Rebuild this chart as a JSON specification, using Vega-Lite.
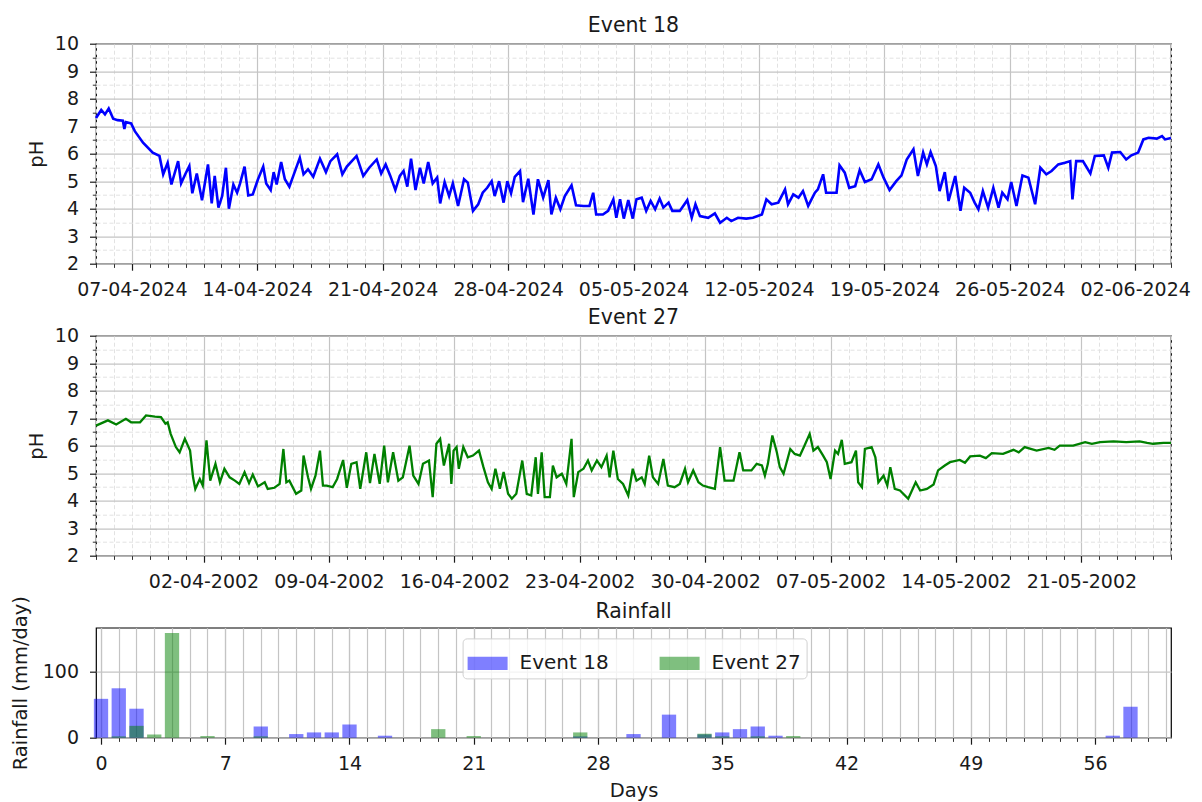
{
  "$schema": "https://vega.github.io/schema/vega-lite/v6.json",
  "background": "white",
  "padding": {"left": 10, "top": 14.7, "right": 5, "bottom": 5},
  "bounds": "flush",
  "spacing": 72,
  "resolve": {"legend": {"color": "independent"}, "scale": {"color": "independent"}},
  "config": {
    "font": "DejaVu Sans",
    "view": {"stroke": "black", "strokeWidth": 1.2},
    "axis": {
      "labelFont": "DejaVu Sans", "labelFontSize": 19, "labelColor": "#1a1a1a",
      "titleFont": "DejaVu Sans", "titleFontSize": 19.5, "titleFontWeight": "normal", "titleColor": "#1a1a1a",
      "tickColor": "#1a1a1a", "domain": false, "labelFlush": false, "labelOverlap": false,
      "gridColor": "#c4c4c4", "gridWidth": 1.2
    },
    "axisX": {"labelPadding": 10},
    "axisY": {"labelPadding": 11},
    "title": {"font": "DejaVu Sans", "fontSize": 20.5, "fontWeight": "normal", "color": "#1a1a1a"},
    "legend": {"labelFont": "DejaVu Sans"}
  },
  "datasets": {
    "e18": [
      {"t":"2024-04-05T00:00","ph":7.3},{"t":"2024-04-05T07:00","ph":7.59},{"t":"2024-04-05T12:00","ph":7.43},{"t":"2024-04-05T17:00","ph":7.64},
      {"t":"2024-04-05T23:00","ph":7.27},{"t":"2024-04-06T05:00","ph":7.22},{"t":"2024-04-06T12:00","ph":7.2},{"t":"2024-04-06T14:00","ph":6.9},
      {"t":"2024-04-06T16:00","ph":7.15},{"t":"2024-04-06T23:00","ph":7.1},{"t":"2024-04-07T04:00","ph":6.82},{"t":"2024-04-07T15:00","ph":6.4},
      {"t":"2024-04-08T04:00","ph":6.04},{"t":"2024-04-08T13:00","ph":5.92},{"t":"2024-04-08T18:00","ph":5.25},{"t":"2024-04-09T00:00","ph":5.67},
      {"t":"2024-04-09T05:00","ph":4.88},{"t":"2024-04-09T14:00","ph":5.73},{"t":"2024-04-09T18:00","ph":4.92},{"t":"2024-04-10T00:00","ph":5.28},
      {"t":"2024-04-10T05:00","ph":5.55},{"t":"2024-04-10T09:00","ph":4.56},{"t":"2024-04-10T15:00","ph":5.28},{"t":"2024-04-10T22:00","ph":4.31},
      {"t":"2024-04-11T06:00","ph":5.61},{"t":"2024-04-11T11:00","ph":4.19},{"t":"2024-04-11T15:00","ph":5.19},{"t":"2024-04-11T20:00","ph":4.04},
      {"t":"2024-04-12T01:00","ph":4.46},{"t":"2024-04-12T06:00","ph":5.49},{"t":"2024-04-12T10:00","ph":4.0},{"t":"2024-04-12T16:00","ph":4.88},
      {"t":"2024-04-12T21:00","ph":4.58},{"t":"2024-04-13T01:00","ph":4.92},{"t":"2024-04-13T07:00","ph":5.53},{"t":"2024-04-13T12:00","ph":4.48},
      {"t":"2024-04-13T18:00","ph":4.52},{"t":"2024-04-14T01:00","ph":5.07},{"t":"2024-04-14T08:00","ph":5.53},{"t":"2024-04-14T12:00","ph":4.92},
      {"t":"2024-04-14T18:00","ph":4.68},{"t":"2024-04-14T22:00","ph":5.33},{"t":"2024-04-15T02:00","ph":4.88},{"t":"2024-04-15T08:00","ph":5.7},
      {"t":"2024-04-15T13:00","ph":5.07},{"t":"2024-04-15T19:00","ph":4.8},{"t":"2024-04-16T01:00","ph":5.25},{"t":"2024-04-16T09:00","ph":5.85},
      {"t":"2024-04-16T14:00","ph":5.25},{"t":"2024-04-16T20:00","ph":5.43},{"t":"2024-04-17T03:00","ph":5.16},{"t":"2024-04-17T12:00","ph":5.82},
      {"t":"2024-04-17T20:00","ph":5.33},{"t":"2024-04-18T02:00","ph":5.73},{"t":"2024-04-18T11:00","ph":5.98},{"t":"2024-04-18T18:00","ph":5.25},
      {"t":"2024-04-19T00:00","ph":5.53},{"t":"2024-04-19T13:00","ph":5.92},{"t":"2024-04-19T22:00","ph":5.19},{"t":"2024-04-20T06:00","ph":5.49},
      {"t":"2024-04-20T16:00","ph":5.79},{"t":"2024-04-20T22:00","ph":5.28},{"t":"2024-04-21T04:00","ph":5.61},{"t":"2024-04-21T10:00","ph":5.21},
      {"t":"2024-04-21T17:00","ph":4.68},{"t":"2024-04-21T23:00","ph":5.19},{"t":"2024-04-22T04:00","ph":5.37},{"t":"2024-04-22T09:00","ph":4.8},
      {"t":"2024-04-22T14:00","ph":5.82},{"t":"2024-04-22T20:00","ph":4.68},{"t":"2024-04-23T02:00","ph":5.49},{"t":"2024-04-23T07:00","ph":4.92},
      {"t":"2024-04-23T13:00","ph":5.7},{"t":"2024-04-23T19:00","ph":4.92},{"t":"2024-04-24T01:00","ph":5.13},{"t":"2024-04-24T05:00","ph":4.19},
      {"t":"2024-04-24T11:00","ph":4.97},{"t":"2024-04-24T17:00","ph":4.46},{"t":"2024-04-24T22:00","ph":4.92},{"t":"2024-04-25T02:00","ph":4.46},
      {"t":"2024-04-25T05:00","ph":4.1},{"t":"2024-04-25T13:00","ph":5.07},{"t":"2024-04-25T18:00","ph":4.95},{"t":"2024-04-26T01:00","ph":3.92},
      {"t":"2024-04-26T08:00","ph":4.16},{"t":"2024-04-26T14:00","ph":4.58},{"t":"2024-04-26T20:00","ph":4.76},{"t":"2024-04-27T02:00","ph":5.0},
      {"t":"2024-04-27T06:00","ph":4.46},{"t":"2024-04-27T12:00","ph":5.0},{"t":"2024-04-27T18:00","ph":4.22},{"t":"2024-04-27T23:00","ph":5.0},
      {"t":"2024-04-28T04:00","ph":4.56},{"t":"2024-04-28T09:00","ph":5.16},{"t":"2024-04-28T16:00","ph":5.37},{"t":"2024-04-28T20:00","ph":4.24},
      {"t":"2024-04-29T03:00","ph":5.09},{"t":"2024-04-29T10:00","ph":3.79},{"t":"2024-04-29T16:00","ph":5.07},{"t":"2024-04-29T23:00","ph":4.4},
      {"t":"2024-04-30T06:00","ph":5.04},{"t":"2024-04-30T10:00","ph":3.79},{"t":"2024-04-30T16:00","ph":4.4},{"t":"2024-04-30T22:00","ph":3.98},
      {"t":"2024-05-01T04:00","ph":4.46},{"t":"2024-05-01T13:00","ph":4.85},{"t":"2024-05-01T19:00","ph":4.12},{"t":"2024-05-02T05:00","ph":4.1},
      {"t":"2024-05-02T13:00","ph":4.1},{"t":"2024-05-02T18:00","ph":4.58},{"t":"2024-05-02T22:00","ph":3.79},{"t":"2024-05-03T07:00","ph":3.79},
      {"t":"2024-05-03T14:00","ph":3.92},{"t":"2024-05-03T21:00","ph":4.34},{"t":"2024-05-04T01:00","ph":3.67},{"t":"2024-05-04T06:00","ph":4.34},
      {"t":"2024-05-04T11:00","ph":3.64},{"t":"2024-05-04T17:00","ph":4.31},{"t":"2024-05-04T23:00","ph":3.64},{"t":"2024-05-05T04:00","ph":4.34},
      {"t":"2024-05-05T11:00","ph":4.4},{"t":"2024-05-05T17:00","ph":3.92},{"t":"2024-05-05T23:00","ph":4.28},{"t":"2024-05-06T05:00","ph":3.98},
      {"t":"2024-05-06T11:00","ph":4.37},{"t":"2024-05-06T16:00","ph":4.04},{"t":"2024-05-06T23:00","ph":4.22},{"t":"2024-05-07T04:00","ph":3.92},
      {"t":"2024-05-07T14:00","ph":3.92},{"t":"2024-05-08T00:00","ph":4.31},{"t":"2024-05-08T06:00","ph":3.67},{"t":"2024-05-08T11:00","ph":4.16},
      {"t":"2024-05-08T17:00","ph":3.73},{"t":"2024-05-09T04:00","ph":3.67},{"t":"2024-05-09T13:00","ph":3.83},{"t":"2024-05-09T20:00","ph":3.49},
      {"t":"2024-05-10T05:00","ph":3.67},{"t":"2024-05-10T11:00","ph":3.55},{"t":"2024-05-10T20:00","ph":3.67},{"t":"2024-05-11T07:00","ph":3.64},
      {"t":"2024-05-11T16:00","ph":3.67},{"t":"2024-05-12T04:00","ph":3.79},{"t":"2024-05-12T10:00","ph":4.34},{"t":"2024-05-12T17:00","ph":4.16},
      {"t":"2024-05-13T02:00","ph":4.22},{"t":"2024-05-13T11:00","ph":4.7},{"t":"2024-05-13T15:00","ph":4.16},{"t":"2024-05-13T22:00","ph":4.52},
      {"t":"2024-05-14T05:00","ph":4.4},{"t":"2024-05-14T11:00","ph":4.64},{"t":"2024-05-14T18:00","ph":4.1},{"t":"2024-05-15T03:00","ph":4.58},
      {"t":"2024-05-15T07:00","ph":4.7},{"t":"2024-05-15T14:00","ph":5.25},{"t":"2024-05-15T18:00","ph":4.58},{"t":"2024-05-16T01:00","ph":4.58},
      {"t":"2024-05-16T08:00","ph":4.58},{"t":"2024-05-16T12:00","ph":5.58},{"t":"2024-05-16T19:00","ph":5.31},{"t":"2024-05-17T01:00","ph":4.76},
      {"t":"2024-05-17T09:00","ph":4.82},{"t":"2024-05-17T15:00","ph":5.4},{"t":"2024-05-17T22:00","ph":4.97},{"t":"2024-05-18T07:00","ph":5.07},
      {"t":"2024-05-18T16:00","ph":5.61},{"t":"2024-05-18T23:00","ph":5.13},{"t":"2024-05-19T07:00","ph":4.68},{"t":"2024-05-19T16:00","ph":5.0},
      {"t":"2024-05-19T23:00","ph":5.21},{"t":"2024-05-20T06:00","ph":5.79},{"t":"2024-05-20T15:00","ph":6.16},{"t":"2024-05-20T21:00","ph":5.19},
      {"t":"2024-05-21T04:00","ph":6.04},{"t":"2024-05-21T09:00","ph":5.61},{"t":"2024-05-21T14:00","ph":6.06},{"t":"2024-05-21T21:00","ph":5.55},
      {"t":"2024-05-22T02:00","ph":4.64},{"t":"2024-05-22T09:00","ph":5.33},{"t":"2024-05-22T14:00","ph":4.28},{"t":"2024-05-22T23:00","ph":5.19},
      {"t":"2024-05-23T06:00","ph":3.92},{"t":"2024-05-23T11:00","ph":4.76},{"t":"2024-05-23T19:00","ph":4.58},{"t":"2024-05-24T01:00","ph":4.22},
      {"t":"2024-05-24T06:00","ph":3.98},{"t":"2024-05-24T12:00","ph":4.64},{"t":"2024-05-24T19:00","ph":4.04},{"t":"2024-05-25T02:00","ph":4.76},
      {"t":"2024-05-25T09:00","ph":4.04},{"t":"2024-05-25T14:00","ph":4.58},{"t":"2024-05-25T21:00","ph":4.34},{"t":"2024-05-26T02:00","ph":4.97},
      {"t":"2024-05-26T09:00","ph":4.1},{"t":"2024-05-26T17:00","ph":5.21},{"t":"2024-05-27T01:00","ph":5.13},{"t":"2024-05-27T10:00","ph":4.16},
      {"t":"2024-05-27T17:00","ph":5.49},{"t":"2024-05-28T01:00","ph":5.25},{"t":"2024-05-28T08:00","ph":5.37},{"t":"2024-05-28T17:00","ph":5.61},
      {"t":"2024-05-29T02:00","ph":5.67},{"t":"2024-05-29T09:00","ph":5.73},{"t":"2024-05-29T12:00","ph":4.34},{"t":"2024-05-29T17:00","ph":5.73},
      {"t":"2024-05-30T02:00","ph":5.73},{"t":"2024-05-30T12:00","ph":5.28},{"t":"2024-05-30T18:00","ph":5.92},{"t":"2024-05-31T06:00","ph":5.94},
      {"t":"2024-05-31T12:00","ph":5.49},{"t":"2024-05-31T17:00","ph":6.04},{"t":"2024-06-01T04:00","ph":6.06},{"t":"2024-06-01T12:00","ph":5.79},
      {"t":"2024-06-01T19:00","ph":5.94},{"t":"2024-06-02T04:00","ph":6.04},{"t":"2024-06-02T11:00","ph":6.52},{"t":"2024-06-02T18:00","ph":6.58},
      {"t":"2024-06-03T05:00","ph":6.55},{"t":"2024-06-03T12:00","ph":6.64},{"t":"2024-06-03T16:00","ph":6.52},{"t":"2024-06-04T00:00","ph":6.57}
    ],
    "e27": [
      {"t":"2002-03-27T00:00","ph":6.73},{"t":"2002-03-27T16:00","ph":6.92},{"t":"2002-03-28T03:00","ph":6.77},{"t":"2002-03-28T16:00","ph":6.98},
      {"t":"2002-03-28T23:00","ph":6.85},{"t":"2002-03-29T11:00","ph":6.85},{"t":"2002-03-29T19:00","ph":7.1},{"t":"2002-03-30T07:00","ph":7.06},
      {"t":"2002-03-30T15:00","ph":7.04},{"t":"2002-03-30T21:00","ph":6.8},{"t":"2002-03-31T00:00","ph":6.85},{"t":"2002-03-31T04:00","ph":6.43},
      {"t":"2002-03-31T11:00","ph":5.95},{"t":"2002-03-31T16:00","ph":5.76},{"t":"2002-03-31T23:00","ph":6.25},{"t":"2002-04-01T06:00","ph":5.82},
      {"t":"2002-04-01T10:00","ph":4.85},{"t":"2002-04-01T13:00","ph":4.43},{"t":"2002-04-01T19:00","ph":4.79},{"t":"2002-04-01T23:00","ph":4.55},
      {"t":"2002-04-02T04:00","ph":6.19},{"t":"2002-04-02T09:00","ph":4.73},{"t":"2002-04-02T16:00","ph":5.34},{"t":"2002-04-02T22:00","ph":4.67},
      {"t":"2002-04-03T04:00","ph":5.16},{"t":"2002-04-03T11:00","ph":4.85},{"t":"2002-04-03T18:00","ph":4.73},{"t":"2002-04-04T00:00","ph":4.61},
      {"t":"2002-04-04T07:00","ph":5.04},{"t":"2002-04-04T13:00","ph":4.64},{"t":"2002-04-04T18:00","ph":4.95},{"t":"2002-04-05T01:00","ph":4.52},
      {"t":"2002-04-05T10:00","ph":4.67},{"t":"2002-04-05T14:00","ph":4.43},{"t":"2002-04-05T23:00","ph":4.47},{"t":"2002-04-06T06:00","ph":4.61},
      {"t":"2002-04-06T11:00","ph":5.88},{"t":"2002-04-06T15:00","ph":4.67},{"t":"2002-04-06T19:00","ph":4.73},{"t":"2002-04-07T04:00","ph":4.25},
      {"t":"2002-04-07T11:00","ph":4.37},{"t":"2002-04-07T14:00","ph":5.64},{"t":"2002-04-07T20:00","ph":4.85},{"t":"2002-04-08T00:00","ph":4.43},
      {"t":"2002-04-08T06:00","ph":4.91},{"t":"2002-04-08T12:00","ph":5.82},{"t":"2002-04-08T16:00","ph":4.55},{"t":"2002-04-08T21:00","ph":4.55},
      {"t":"2002-04-09T05:00","ph":4.49},{"t":"2002-04-09T11:00","ph":4.79},{"t":"2002-04-09T19:00","ph":5.48},{"t":"2002-04-10T00:00","ph":4.47},
      {"t":"2002-04-10T06:00","ph":5.34},{"t":"2002-04-10T13:00","ph":5.4},{"t":"2002-04-10T18:00","ph":4.43},{"t":"2002-04-11T02:00","ph":5.76},
      {"t":"2002-04-11T07:00","ph":4.64},{"t":"2002-04-11T13:00","ph":5.7},{"t":"2002-04-11T20:00","ph":4.61},{"t":"2002-04-12T02:00","ph":6.0},
      {"t":"2002-04-12T07:00","ph":4.67},{"t":"2002-04-12T14:00","ph":5.76},{"t":"2002-04-12T21:00","ph":4.73},{"t":"2002-04-13T03:00","ph":4.85},
      {"t":"2002-04-13T12:00","ph":6.0},{"t":"2002-04-13T17:00","ph":4.91},{"t":"2002-04-14T00:00","ph":4.61},{"t":"2002-04-14T06:00","ph":5.34},
      {"t":"2002-04-14T14:00","ph":5.46},{"t":"2002-04-14T19:00","ph":4.13},{"t":"2002-04-15T00:00","ph":6.07},{"t":"2002-04-15T05:00","ph":6.25},
      {"t":"2002-04-15T10:00","ph":5.28},{"t":"2002-04-15T17:00","ph":6.07},{"t":"2002-04-15T20:00","ph":4.61},{"t":"2002-04-15T23:00","ph":5.82},
      {"t":"2002-04-16T03:00","ph":5.95},{"t":"2002-04-16T06:00","ph":5.16},{"t":"2002-04-16T12:00","ph":5.95},{"t":"2002-04-16T18:00","ph":5.58},
      {"t":"2002-04-17T01:00","ph":5.64},{"t":"2002-04-17T09:00","ph":5.82},{"t":"2002-04-17T15:00","ph":5.22},{"t":"2002-04-17T21:00","ph":4.67},
      {"t":"2002-04-18T02:00","ph":4.43},{"t":"2002-04-18T07:00","ph":5.16},{"t":"2002-04-18T13:00","ph":4.43},{"t":"2002-04-18T18:00","ph":5.04},
      {"t":"2002-04-19T00:00","ph":4.25},{"t":"2002-04-19T05:00","ph":4.07},{"t":"2002-04-19T11:00","ph":4.25},{"t":"2002-04-19T19:00","ph":5.46},
      {"t":"2002-04-20T01:00","ph":4.25},{"t":"2002-04-20T07:00","ph":4.19},{"t":"2002-04-20T13:00","ph":5.58},{"t":"2002-04-20T16:00","ph":4.25},
      {"t":"2002-04-20T21:00","ph":5.76},{"t":"2002-04-21T01:00","ph":4.13},{"t":"2002-04-21T08:00","ph":4.13},{"t":"2002-04-21T12:00","ph":5.28},
      {"t":"2002-04-21T17:00","ph":4.85},{"t":"2002-04-22T00:00","ph":4.98},{"t":"2002-04-22T06:00","ph":4.61},{"t":"2002-04-22T13:00","ph":6.25},
      {"t":"2002-04-22T16:00","ph":4.13},{"t":"2002-04-22T22:00","ph":5.04},{"t":"2002-04-23T05:00","ph":5.16},{"t":"2002-04-23T11:00","ph":5.46},
      {"t":"2002-04-23T16:00","ph":5.1},{"t":"2002-04-23T23:00","ph":5.46},{"t":"2002-04-24T05:00","ph":5.22},{"t":"2002-04-24T12:00","ph":5.64},
      {"t":"2002-04-24T16:00","ph":4.85},{"t":"2002-04-24T21:00","ph":5.82},{"t":"2002-04-25T03:00","ph":4.79},{"t":"2002-04-25T10:00","ph":4.61},
      {"t":"2002-04-25T17:00","ph":4.19},{"t":"2002-04-25T23:00","ph":5.16},{"t":"2002-04-26T04:00","ph":4.73},{"t":"2002-04-26T11:00","ph":4.85},
      {"t":"2002-04-26T15:00","ph":4.61},{"t":"2002-04-26T21:00","ph":5.64},{"t":"2002-04-27T02:00","ph":4.85},{"t":"2002-04-27T09:00","ph":4.61},
      {"t":"2002-04-27T16:00","ph":5.52},{"t":"2002-04-27T22:00","ph":4.55},{"t":"2002-04-28T07:00","ph":4.49},{"t":"2002-04-28T14:00","ph":4.61},
      {"t":"2002-04-28T21:00","ph":5.16},{"t":"2002-04-29T01:00","ph":4.67},{"t":"2002-04-29T08:00","ph":5.1},{"t":"2002-04-29T15:00","ph":4.67},
      {"t":"2002-04-29T21:00","ph":4.55},{"t":"2002-04-30T04:00","ph":4.49},{"t":"2002-04-30T13:00","ph":4.43},{"t":"2002-04-30T20:00","ph":5.95},
      {"t":"2002-05-01T02:00","ph":4.73},{"t":"2002-05-01T14:00","ph":4.73},{"t":"2002-05-01T22:00","ph":5.76},{"t":"2002-05-02T03:00","ph":5.1},
      {"t":"2002-05-02T14:00","ph":5.1},{"t":"2002-05-02T21:00","ph":5.34},{"t":"2002-05-03T04:00","ph":5.28},{"t":"2002-05-03T08:00","ph":4.91},
      {"t":"2002-05-03T12:00","ph":5.34},{"t":"2002-05-03T18:00","ph":6.37},{"t":"2002-05-04T00:00","ph":5.76},{"t":"2002-05-04T04:00","ph":5.22},
      {"t":"2002-05-04T09:00","ph":4.98},{"t":"2002-05-04T18:00","ph":5.88},{"t":"2002-05-05T00:00","ph":5.7},{"t":"2002-05-05T07:00","ph":5.64},
      {"t":"2002-05-05T13:00","ph":6.0},{"t":"2002-05-05T20:00","ph":6.43},{"t":"2002-05-06T01:00","ph":5.82},{"t":"2002-05-06T07:00","ph":5.95},
      {"t":"2002-05-06T14:00","ph":5.64},{"t":"2002-05-06T19:00","ph":5.4},{"t":"2002-05-07T00:00","ph":4.79},{"t":"2002-05-07T06:00","ph":5.82},
      {"t":"2002-05-07T10:00","ph":5.7},{"t":"2002-05-07T15:00","ph":6.21},{"t":"2002-05-07T19:00","ph":5.34},{"t":"2002-05-08T04:00","ph":5.4},
      {"t":"2002-05-08T10:00","ph":5.82},{"t":"2002-05-08T13:00","ph":4.67},{"t":"2002-05-08T18:00","ph":4.49},{"t":"2002-05-08T22:00","ph":5.88},
      {"t":"2002-05-09T07:00","ph":5.95},{"t":"2002-05-09T12:00","ph":5.58},{"t":"2002-05-09T16:00","ph":4.67},{"t":"2002-05-09T23:00","ph":4.91},
      {"t":"2002-05-10T04:00","ph":4.55},{"t":"2002-05-10T08:00","ph":5.22},{"t":"2002-05-10T14:00","ph":4.43},{"t":"2002-05-10T21:00","ph":4.37},
      {"t":"2002-05-11T08:00","ph":4.07},{"t":"2002-05-11T18:00","ph":4.67},{"t":"2002-05-12T00:00","ph":4.37},{"t":"2002-05-12T09:00","ph":4.43},
      {"t":"2002-05-12T18:00","ph":4.59},{"t":"2002-05-13T00:00","ph":5.1},{"t":"2002-05-13T09:00","ph":5.28},{"t":"2002-05-13T16:00","ph":5.4},
      {"t":"2002-05-14T05:00","ph":5.48},{"t":"2002-05-14T12:00","ph":5.38},{"t":"2002-05-14T19:00","ph":5.61},{"t":"2002-05-15T08:00","ph":5.64},
      {"t":"2002-05-15T16:00","ph":5.55},{"t":"2002-05-16T00:00","ph":5.73},{"t":"2002-05-16T15:00","ph":5.7},{"t":"2002-05-17T05:00","ph":5.85},
      {"t":"2002-05-17T12:00","ph":5.76},{"t":"2002-05-17T20:00","ph":5.95},{"t":"2002-05-18T12:00","ph":5.82},{"t":"2002-05-19T04:00","ph":5.92},
      {"t":"2002-05-19T12:00","ph":5.85},{"t":"2002-05-19T19:00","ph":6.0},{"t":"2002-05-20T13:00","ph":6.0},{"t":"2002-05-21T05:00","ph":6.13},
      {"t":"2002-05-21T14:00","ph":6.07},{"t":"2002-05-22T01:00","ph":6.13},{"t":"2002-05-22T19:00","ph":6.16},{"t":"2002-05-23T12:00","ph":6.13},
      {"t":"2002-05-24T06:00","ph":6.16},{"t":"2002-05-24T16:00","ph":6.1},{"t":"2002-05-25T00:00","ph":6.07},{"t":"2002-05-25T14:00","ph":6.1},
      {"t":"2002-05-26T00:00","ph":6.1}
    ],
    "rain": [
      {"day":0,"event":"Event 18","mm":59},{"day":1,"event":"Event 18","mm":75},{"day":2,"event":"Event 18","mm":44},
      {"day":9,"event":"Event 18","mm":17},{"day":11,"event":"Event 18","mm":5.5},{"day":12,"event":"Event 18","mm":8},
      {"day":13,"event":"Event 18","mm":8},{"day":14,"event":"Event 18","mm":20},{"day":16,"event":"Event 18","mm":3},
      {"day":27,"event":"Event 18","mm":2},{"day":30,"event":"Event 18","mm":5.5},{"day":32,"event":"Event 18","mm":35},
      {"day":34,"event":"Event 18","mm":5},{"day":35,"event":"Event 18","mm":8},{"day":36,"event":"Event 18","mm":13},
      {"day":37,"event":"Event 18","mm":17},{"day":38,"event":"Event 18","mm":3},{"day":57,"event":"Event 18","mm":3},
      {"day":58,"event":"Event 18","mm":47},
      {"day":1,"event":"Event 27","mm":2},{"day":2,"event":"Event 27","mm":18},{"day":3,"event":"Event 27","mm":5},
      {"day":4,"event":"Event 27","mm":159},{"day":6,"event":"Event 27","mm":2.5},{"day":9,"event":"Event 27","mm":2},
      {"day":19,"event":"Event 27","mm":13},{"day":21,"event":"Event 27","mm":2.5},{"day":27,"event":"Event 27","mm":8},
      {"day":34,"event":"Event 27","mm":6},{"day":35,"event":"Event 27","mm":2},{"day":37,"event":"Event 27","mm":2},
      {"day":39,"event":"Event 27","mm":2.5}
    ]
  },
  "vconcat": [
    {
      "title": {"text": "Event 18", "offset": -17.4, "baseline": "alphabetic"},
      "width": 1075, "height": 220,
      "data": {"name": "e18"},
      "layer": [
        {
          "mark": {"type": "line", "opacity": 0},
          "encoding": {
            "x": {"field": "t", "type": "temporal",
              "scale": {"domain": [{"year": 2024, "month": 4, "date": 5}, {"year": 2024, "month": 6, "date": 4}]},
              "axis": {"orient": "bottom", "tickCount": {"interval": "day", "step": 1}, "labels": false, "tickSize": 3.7, "tickWidth": 0.9,
                "grid": true, "gridColor": "#e2e2e2", "gridWidth": 1, "gridDash": [4, 2.5], "title": null}},
            "y": {"field": "ph", "type": "quantitative", "scale": {"domain": [2, 10], "nice": false, "zero": false},
              "axis": {"orient": "left", "values": [2.5, 3.5, 4.5, 5.5, 6.5, 7.5, 8.5, 9.5], "labels": false, "tickSize": 3.7, "tickWidth": 0.9,
                "grid": true, "gridColor": "#e2e2e2", "gridWidth": 1, "gridDash": [4, 2.5], "title": null}}
          }
        },
        {
          "mark": {"type": "line", "color": "#0000ff", "strokeWidth": 2.6},
          "encoding": {
            "x": {"field": "t", "type": "temporal",
              "axis": {"orient": "bottom", "format": "%d-%m-%Y", "tickSize": 6.5, "tickWidth": 1.2, "grid": true, "title": null,
                "values": [{"year": 2024, "month": 4, "date": 7}, {"year": 2024, "month": 4, "date": 14}, {"year": 2024, "month": 4, "date": 21},
                  {"year": 2024, "month": 4, "date": 28}, {"year": 2024, "month": 5, "date": 5}, {"year": 2024, "month": 5, "date": 12},
                  {"year": 2024, "month": 5, "date": 19}, {"year": 2024, "month": 5, "date": 26}, {"year": 2024, "month": 6, "date": 2}]}},
            "y": {"field": "ph", "type": "quantitative",
              "axis": {"orient": "left", "values": [2, 3, 4, 5, 6, 7, 8, 9, 10], "tickSize": 6.5, "tickWidth": 1.2, "grid": true, "title": "pH", "titlePadding": 8}}
          }
        }
      ],
      "resolve": {"axis": {"x": "independent", "y": "independent"}}
    },
    {
      "title": {"text": "Event 27", "offset": -18.3, "baseline": "alphabetic"},
      "width": 1075, "height": 220,
      "data": {"name": "e27"},
      "layer": [
        {
          "mark": {"type": "line", "opacity": 0},
          "encoding": {
            "x": {"field": "t", "type": "temporal",
              "scale": {"domain": [{"year": 2002, "month": 3, "date": 27}, {"year": 2002, "month": 5, "date": 26}]},
              "axis": {"orient": "bottom", "tickCount": {"interval": "day", "step": 1}, "labels": false, "tickSize": 3.7, "tickWidth": 0.9,
                "grid": true, "gridColor": "#e2e2e2", "gridWidth": 1, "gridDash": [4, 2.5], "title": null}},
            "y": {"field": "ph", "type": "quantitative", "scale": {"domain": [2, 10], "nice": false, "zero": false},
              "axis": {"orient": "left", "values": [2.5, 3.5, 4.5, 5.5, 6.5, 7.5, 8.5, 9.5], "labels": false, "tickSize": 3.7, "tickWidth": 0.9,
                "grid": true, "gridColor": "#e2e2e2", "gridWidth": 1, "gridDash": [4, 2.5], "title": null}}
          }
        },
        {
          "mark": {"type": "line", "color": "#008000", "strokeWidth": 2.3},
          "encoding": {
            "x": {"field": "t", "type": "temporal",
              "axis": {"orient": "bottom", "format": "%d-%m-%Y", "tickSize": 6.5, "tickWidth": 1.2, "grid": true, "title": null,
                "values": [{"year": 2002, "month": 4, "date": 2}, {"year": 2002, "month": 4, "date": 9}, {"year": 2002, "month": 4, "date": 16},
                  {"year": 2002, "month": 4, "date": 23}, {"year": 2002, "month": 4, "date": 30}, {"year": 2002, "month": 5, "date": 7},
                  {"year": 2002, "month": 5, "date": 14}, {"year": 2002, "month": 5, "date": 21}]}},
            "y": {"field": "ph", "type": "quantitative",
              "axis": {"orient": "left", "values": [2, 3, 4, 5, 6, 7, 8, 9, 10], "tickSize": 6.5, "tickWidth": 1.2, "grid": true, "title": "pH", "titlePadding": 8}}
          }
        }
      ],
      "resolve": {"axis": {"x": "independent", "y": "independent"}}
    },
    {
      "title": {"text": "Rainfall", "offset": -42.9, "baseline": "alphabetic"},
      "width": 1075, "height": 110,
      "data": {"name": "rain"},
      "layer": [
        {
          "mark": {"type": "point", "opacity": 0},
          "encoding": {
            "x": {"field": "day", "type": "quantitative", "scale": {"domain": [0, 60], "nice": false, "zero": false},
              "axis": {"orient": "bottom", "values": [0,1,2,3,4,5,6,7,8,9,10,11,12,13,14,15,16,17,18,19,20,21,22,23,24,25,26,27,28,29,30,31,32,33,34,35,36,37,38,39,40,41,42,43,44,45,46,47,48,49,50,51,52,53,54,55,56,57,58,59,60],
                "labels": false, "tickSize": 3.7, "tickWidth": 0.9, "grid": true, "title": null}}
          }
        },
        {
          "mark": {"type": "bar", "width": 14.3, "opacity": 0.5},
          "encoding": {
            "x": {"field": "day", "type": "quantitative",
              "axis": {"orient": "bottom", "values": [0, 7, 14, 21, 28, 35, 42, 49, 56], "tickSize": 6.5, "tickWidth": 1.2, "grid": true, "title": "Days", "titlePadding": 8}},
            "y": {"field": "mm", "type": "quantitative", "stack": null, "scale": {"domain": [0, 167], "nice": false},
              "axis": {"orient": "left", "values": [0, 100], "tickSize": 6.5, "tickWidth": 1.2, "grid": true, "title": "Rainfall (mm/day)", "titlePadding": 11.4}},
            "color": {"field": "event", "type": "nominal",
              "scale": {"domain": ["Event 18", "Event 27"], "range": ["#0000ff", "#008000"]},
              "legend": {"title": null, "orient": "none", "legendX": 366.6, "legendY": 10.7, "direction": "horizontal", "columns": 2,
                "symbolType": "M-1,-0.33H1V0.33H-1Z", "symbolSize": 1600, "symbolOpacity": 0.5, "symbolStrokeWidth": 0,
                "labelFontSize": 20, "labelColor": "#1a1a1a", "labelOffset": 12, "columnPadding": 50, "padding": 5,
                "fillColor": "rgba(255,255,255,0.8)", "strokeColor": "#d0d0d0", "cornerRadius": 4}}
          }
        }
      ],
      "resolve": {"axis": {"x": "independent"}}
    }
  ]
}
